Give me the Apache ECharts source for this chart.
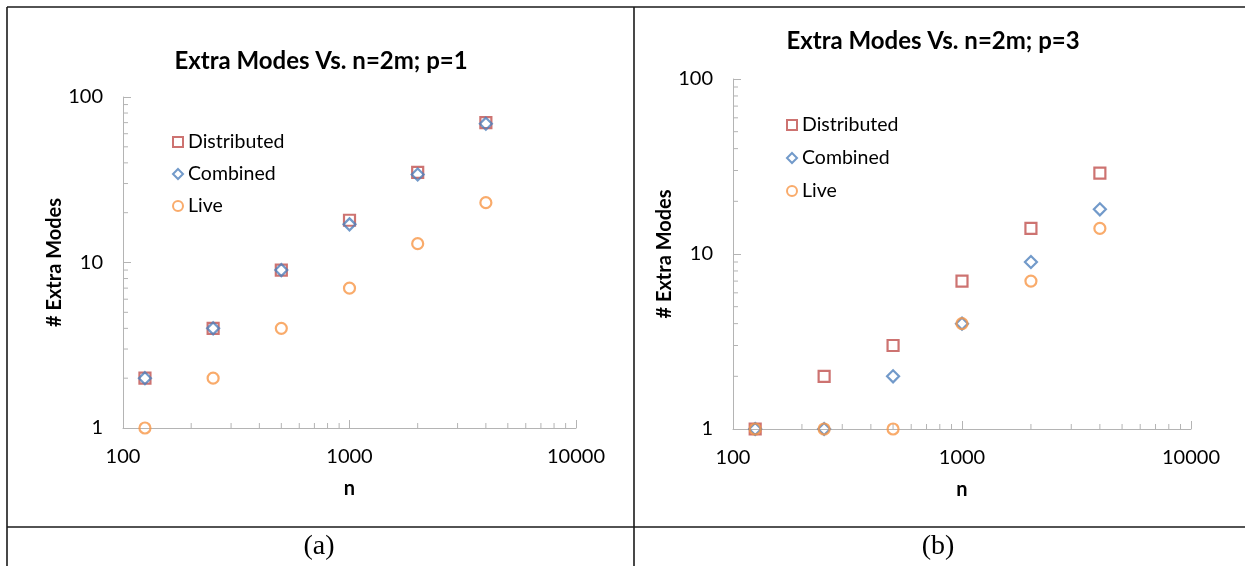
<!DOCTYPE html>
<html>
<head>
<meta charset="utf-8">
<script src="https://cdn.jsdelivr.net/npm/echarts@6/dist/echarts.min.js"></script>
<style>
html,body{margin:0;padding:0;background:#fff;}
#chart{width:1245px;height:566px;}
</style>
</head>
<body>
<div id="chart"></div>
<script>
// ---- data ----
const nValues = [125, 250, 500, 1000, 2000, 4000];
const p1Distributed = [2, 4, 9, 18, 35, 70];
const p1Combined = [2, 4, 9, 17, 34, 69];
const p1Live = [1, 2, 4, 7, 13, 23];
const p3Distributed = [1, 2, 3, 7, 14, 29];
const p3Combined = [1, 1, 2, 4, 9, 18];
const p3Live = [1, 1, 1, 4, 7, 14];
const seriesNames = ['Distributed', 'Combined', 'Live'];
const chartTitles = ['Extra Modes Vs. n=2m; p=1', 'Extra Modes Vs. n=2m; p=3'];
const captions = ['(a)', '(b)'];
const xMinorTicks = [200, 300, 400, 500, 600, 700, 800, 900, 2000, 3000, 4000, 5000, 6000, 7000, 8000, 9000];
const yMinorTicks = [2, 3, 4, 5, 6, 7, 8, 9, 20, 30, 40, 50, 60, 70, 80, 90];

// ---- styles ----
const FONT = 'Lato';
const AXIS_GRAY = '#b4b4b4';
const styles = [
  { symbol: 'rect', size: 11, color: '#c0504d' },
  { symbol: 'diamond', size: 12, color: '#4f81bd' },
  { symbol: 'circle', size: 11, color: '#f79646' }
];

const chart = echarts.init(document.getElementById('chart'), null, { renderer: 'canvas' });

const grids = [
  { left: 123, top: 97, width: 453, height: 331 },
  { left: 733, top: 79, width: 458, height: 350 }
];

function xAxis(i) {
  return {
    type: 'log', logBase: 10, min: 100, max: 10000, gridIndex: i,
    name: 'n', nameLocation: 'middle', nameGap: 51,
    nameTextStyle: { fontFamily: FONT, fontWeight: 'bold', fontSize: 20, color: '#000' },
    axisLine: { show: true, lineStyle: { color: AXIS_GRAY, width: 1 } },
    axisTick: { show: true, inside: true, length: 8, lineStyle: { color: AXIS_GRAY } },
    axisLabel: { margin: 19, fontFamily: FONT, fontSize: 20, color: '#000',
      formatter: v => String(Math.round(v)) },
    splitLine: { show: false }
  };
}
function yAxis(i) {
  return {
    type: 'log', logBase: 10, min: 1, max: 100, gridIndex: i,
    name: '# Extra Modes', nameLocation: 'middle', nameGap: 57,
    nameTextStyle: { fontFamily: FONT, fontWeight: 'bold', fontSize: 20, color: '#000' },
    axisLine: { show: true, lineStyle: { color: AXIS_GRAY, width: 1 } },
    axisTick: { show: true, inside: true, length: 8, lineStyle: { color: AXIS_GRAY } },
    axisLabel: { margin: 20, fontFamily: FONT, fontSize: 20, color: '#000',
      formatter: v => String(Math.round(v)) },
    splitLine: { show: false }
  };
}

function scatter(i, k, values) {
  const s = styles[k];
  return {
    type: 'scatter', name: seriesNames[k], xAxisIndex: i, yAxisIndex: i,
    symbol: s.symbol, symbolSize: s.size, clip: false, silent: true,
    itemStyle: { color: 'rgba(255,255,255,0)', borderColor: s.color, borderWidth: 2.2 },
    data: nValues.map((n, j) => [n, values[j]]),
    z: 5 + k
  };
}

function minorX(i) {
  return {
    type: 'custom', xAxisIndex: i, yAxisIndex: i, silent: true, clip: false, z: 3,
    data: xMinorTicks.map(v => [v, 1]),
    renderItem: (params, api) => {
      const p = api.coord([api.value(0), api.value(1)]);
      return { type: 'line', shape: { x1: p[0], y1: p[1], x2: p[0], y2: p[1] - 5 },
        style: { stroke: AXIS_GRAY, lineWidth: 1 } };
    }
  };
}
function minorY(i) {
  return {
    type: 'custom', xAxisIndex: i, yAxisIndex: i, silent: true, clip: false, z: 3,
    data: yMinorTicks.map(v => [100, v]),
    renderItem: (params, api) => {
      const p = api.coord([api.value(0), api.value(1)]);
      return { type: 'line', shape: { x1: p[0], y1: p[1], x2: p[0] + 5, y2: p[1] },
        style: { stroke: AXIS_GRAY, lineWidth: 1 } };
    }
  };
}

const LINE = { stroke: '#1a1a1a', lineWidth: 1.6 };

const option = {
  backgroundColor: '#fff',
  animation: false,
  title: [
    { text: chartTitles[0], left: 321, top: 49, textAlign: 'center', padding: 0,
      textStyle: { fontFamily: FONT, fontWeight: 'bold', fontSize: 24, color: '#000' } },
    { text: chartTitles[1], left: 933, top: 29, textAlign: 'center', padding: 0,
      textStyle: { fontFamily: FONT, fontWeight: 'bold', fontSize: 24, color: '#000' } }
  ],
  legend: [
    { orient: 'vertical', left: 172, top: 131, itemWidth: 10, itemHeight: 10, itemGap: 10,
      padding: 0, selectedMode: false, data: seriesNames,
      textStyle: { fontFamily: FONT, fontSize: 19.5, color: '#000', lineHeight: 22 } },
    { orient: 'vertical', left: 786, top: 114, itemWidth: 10, itemHeight: 10, itemGap: 11,
      padding: 0, selectedMode: false, data: seriesNames,
      textStyle: { fontFamily: FONT, fontSize: 19.5, color: '#000', lineHeight: 22 } }
  ],
  grid: grids,
  xAxis: [xAxis(0), xAxis(1)],
  yAxis: [yAxis(0), yAxis(1)],
  series: [
    minorX(0), minorY(0), minorX(1), minorY(1),
    scatter(0, 0, p1Distributed), scatter(0, 1, p1Combined), scatter(0, 2, p1Live),
    scatter(1, 0, p3Distributed), scatter(1, 1, p3Combined), scatter(1, 2, p3Live)
  ],
  graphic: [
    { type: 'line', shape: { x1: 7, y1: 7, x2: 1245, y2: 7 }, style: LINE, silent: true },
    { type: 'line', shape: { x1: 7, y1: 7, x2: 7, y2: 566 }, style: LINE, silent: true },
    { type: 'line', shape: { x1: 634, y1: 7, x2: 634, y2: 566 }, style: LINE, silent: true },
    { type: 'line', shape: { x1: 7, y1: 527, x2: 1245, y2: 527 }, style: LINE, silent: true },
    { type: 'text', x: 319, y: 547, silent: true,
      style: { text: captions[0], align: 'center', verticalAlign: 'middle',
        font: '28px "Liberation Serif", "DejaVu Serif", serif', fill: '#000' } },
    { type: 'text', x: 938, y: 547, silent: true,
      style: { text: captions[1], align: 'center', verticalAlign: 'middle',
        font: '28px "Liberation Serif", "DejaVu Serif", serif', fill: '#000' } }
  ]
};
chart.setOption(option);
</script>
</body>
</html>
